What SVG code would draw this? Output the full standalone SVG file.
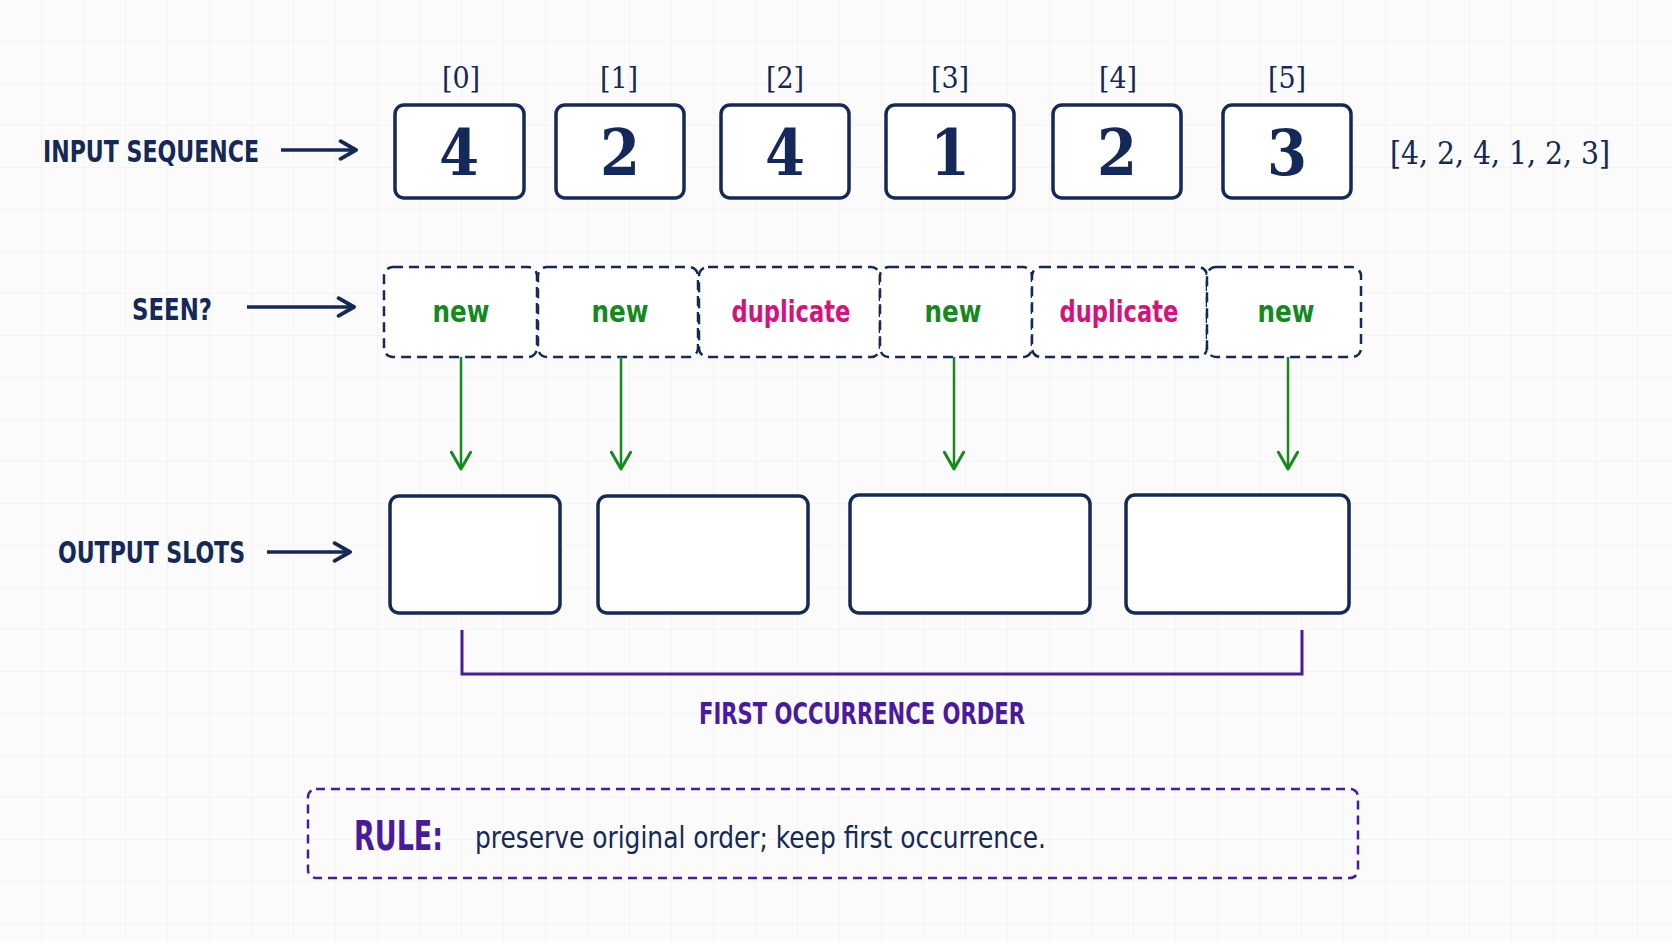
<svg xmlns="http://www.w3.org/2000/svg" width="1672" height="941" viewBox="0 0 1672 941">
<defs>
<pattern id="grid" width="42" height="42" patternUnits="userSpaceOnUse"><path d="M42 0V42M0 42H42" fill="none" stroke="#ececec" stroke-width="1"/></pattern>
<marker id="an" viewBox="0 0 20 20" refX="18" refY="10" markerWidth="22" markerHeight="22" markerUnits="userSpaceOnUse" orient="auto"><path d="M4 2L18 10L4 18" fill="none" stroke="#14285a" stroke-width="3.5" stroke-linecap="round" stroke-linejoin="round"/></marker>
<marker id="ag" viewBox="0 0 20 20" refX="18" refY="10" markerWidth="24" markerHeight="24" markerUnits="userSpaceOnUse" orient="auto"><path d="M4 2L18 10L4 18" fill="none" stroke="#148a1e" stroke-width="2.5" stroke-linecap="round" stroke-linejoin="round"/></marker>
</defs>
<style>
.lab{font-family:"DejaVu Sans Condensed","Liberation Sans",sans-serif;font-weight:bold;fill:#14285a;font-size:30px}
.idx{font-family:"DejaVu Serif Condensed","Liberation Serif",serif;fill:#14285a;font-size:30px;text-anchor:middle}
.dig{font-family:"DejaVu Serif Condensed","Liberation Serif",serif;font-weight:bold;fill:#14285a;font-size:64px;text-anchor:middle}
.box{fill:#fff;stroke:#14285a;stroke-width:3.5}
.dbox{fill:#fff;stroke:#14285a;stroke-width:2.5;stroke-dasharray:10 6}
.st{font-family:"DejaVu Sans Condensed","Liberation Sans",sans-serif;font-size:30px;font-weight:bold;text-anchor:middle}
.new{fill:#148a1e}.dup{fill:#d6127f}
.na{stroke:#14285a;stroke-width:3.5;fill:none;marker-end:url(#an)}
.ga{stroke:#148a1e;stroke-width:2.5;fill:none;marker-end:url(#ag)}
.pu{font-family:"DejaVu Sans Condensed","Liberation Sans",sans-serif;fill:#4a1a9e}
</style>
<rect width="1672" height="941" fill="#fbfbfb"/>
<rect width="1672" height="941" fill="url(#grid)"/>
<g id="labels">
<text class="lab" x="43" y="162" textLength="216" lengthAdjust="spacingAndGlyphs">INPUT SEQUENCE</text>
<text class="lab" x="132" y="320" textLength="80" lengthAdjust="spacingAndGlyphs">SEEN?</text>
<text class="lab" x="58" y="563" textLength="187" lengthAdjust="spacingAndGlyphs">OUTPUT SLOTS</text>
<text x="1390" y="164" font-family="DejaVu Serif Condensed,Liberation Serif,serif" font-size="32" fill="#14285a" textLength="220" lengthAdjust="spacingAndGlyphs">[4, 2, 4, 1, 2, 3]</text>
</g>
<g id="input">
<text class="idx" x="461" y="88">[0]</text><text class="idx" x="619" y="88">[1]</text><text class="idx" x="785" y="88">[2]</text><text class="idx" x="950" y="88">[3]</text><text class="idx" x="1118" y="88">[4]</text><text class="idx" x="1287" y="88">[5]</text>
<rect class="box" x="395" y="105" width="129" height="93" rx="9"/><text class="dig" x="459" y="175">4</text>
<rect class="box" x="556" y="105" width="128" height="93" rx="9"/><text class="dig" x="620" y="175">2</text>
<rect class="box" x="721" y="105" width="128" height="93" rx="9"/><text class="dig" x="785" y="175">4</text>
<rect class="box" x="886" y="105" width="128" height="93" rx="9"/><text class="dig" x="950" y="175">1</text>
<rect class="box" x="1053" y="105" width="128" height="93" rx="9"/><text class="dig" x="1117" y="175">2</text>
<rect class="box" x="1223" y="105" width="128" height="93" rx="9"/><text class="dig" x="1287" y="175">3</text>
</g>
<g id="seen">
<rect class="dbox" x="384" y="267" width="153" height="90" rx="9"/><text class="st new" x="461" y="322" textLength="57" lengthAdjust="spacingAndGlyphs">new</text>
<rect class="dbox" x="538" y="267" width="160" height="90" rx="9"/><text class="st new" x="620" y="322" textLength="57" lengthAdjust="spacingAndGlyphs">new</text>
<rect class="dbox" x="699" y="267" width="181" height="90" rx="9"/><text class="st dup" x="791" y="322" textLength="119" lengthAdjust="spacingAndGlyphs">duplicate</text>
<rect class="dbox" x="880" y="267" width="152" height="90" rx="9"/><text class="st new" x="953" y="322" textLength="57" lengthAdjust="spacingAndGlyphs">new</text>
<rect class="dbox" x="1032" y="267" width="175" height="90" rx="9"/><text class="st dup" x="1119" y="322" textLength="119" lengthAdjust="spacingAndGlyphs">duplicate</text>
<rect class="dbox" x="1207" y="267" width="154" height="90" rx="9"/><text class="st new" x="1286" y="322" textLength="57" lengthAdjust="spacingAndGlyphs">new</text>
</g>
<g id="output">
<rect class="box" x="390" y="496" width="170" height="117" rx="9"/>
<rect class="box" x="598" y="496" width="210" height="117" rx="9"/>
<rect class="box" x="850" y="495" width="240" height="118" rx="9"/>
<rect class="box" x="1126" y="495" width="223" height="118" rx="9"/>
</g>
<g id="connectors">
<line class="na" x1="281" y1="150" x2="356" y2="150"/>
<line class="na" x1="247" y1="307" x2="354" y2="307"/>
<line class="na" x1="267" y1="552" x2="350" y2="552"/>
<line class="ga" x1="461" y1="357" x2="461" y2="469"/>
<line class="ga" x1="621" y1="357" x2="621" y2="469"/>
<line class="ga" x1="954" y1="357" x2="954" y2="469"/>
<line class="ga" x1="1288" y1="357" x2="1288" y2="469"/>
<path d="M462 630V674H1302V630" fill="none" stroke="#4a1a9e" stroke-width="3"/>
</g>
<g id="order"><text class="pu" x="862" y="724" font-size="30" font-weight="bold" text-anchor="middle" textLength="326" lengthAdjust="spacingAndGlyphs">FIRST OCCURRENCE ORDER</text></g>
<g id="rule">
<rect x="308" y="789" width="1050" height="89" rx="8" fill="none" stroke="#4a1a9e" stroke-width="2.5" stroke-dasharray="9 6"/>
<text class="pu" x="354" y="850" font-size="40" font-weight="bold" textLength="89" lengthAdjust="spacingAndGlyphs">RULE:</text>
<text x="475" y="848" font-family="DejaVu Sans Condensed,Liberation Sans,sans-serif" font-size="31" fill="#14285a" textLength="571" lengthAdjust="spacingAndGlyphs">preserve original order; keep first occurrence.</text>
</g>
</svg>
